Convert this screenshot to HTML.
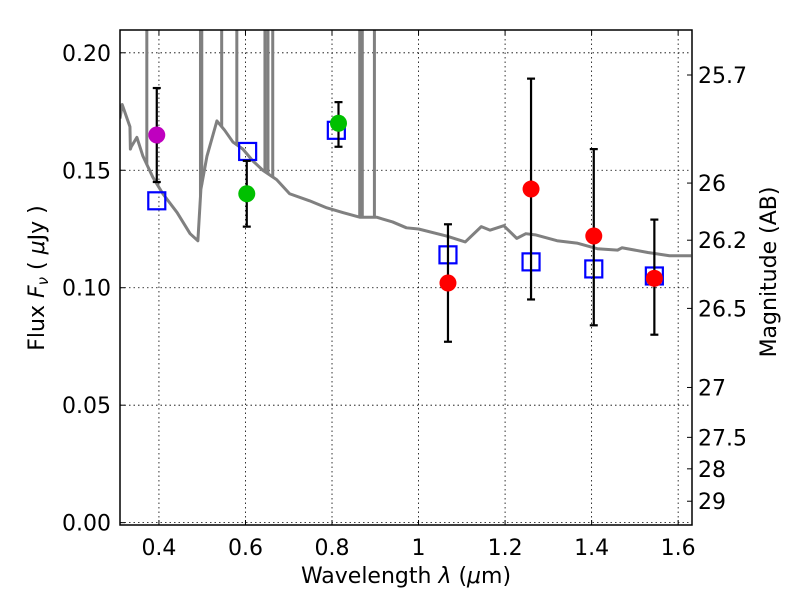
<!DOCTYPE html>
<html><head><meta charset="utf-8"><style>
body{margin:0;background:#fff}
svg text{font-family:"DejaVu Sans","Liberation Sans",sans-serif;fill:#000}
</style></head><body>
<svg id="chart" width="800" height="600" viewBox="0 0 800 600" xmlns="http://www.w3.org/2000/svg">
<defs><clipPath id="clip"><rect x="120" y="30" width="572" height="495"/></clipPath></defs>
<rect x="0" y="0" width="800" height="600" fill="#fff"/>
<g id="grid"></g>
<g id="marks" clip-path="url(#clip)"></g>
<g id="pts"></g>
<rect x="120" y="30" width="572" height="495" fill="none" stroke="#000" stroke-width="1.5"/>
<g id="axes"></g>
<text x="406" y="583" font-size="22" text-anchor="middle">Wavelength  <tspan font-style="italic">λ</tspan> (<tspan font-style="italic">μ</tspan>m)</text>
<text transform="translate(44,278) rotate(-90)" font-size="22" text-anchor="middle">Flux  <tspan font-style="italic">F</tspan><tspan font-style="italic" font-size="15" dy="4">ν</tspan><tspan dy="-4">  ( </tspan><tspan font-style="italic">μ</tspan>Jy )</text>
<text transform="translate(776,272) rotate(-90)" font-size="22" text-anchor="middle">Magnitude (AB)</text>
</svg>
<script>
const xTicks=[0.4,0.6,0.8,1.0,1.2,1.4,1.6];
const xTickLabels=["0.4","0.6","0.8","1","1.2","1.4","1.6"];
const yTicks=[0,0.05,0.10,0.15,0.20];
const yTickLabels=["0.00","0.05","0.10","0.15","0.20"];
const magTicks=[25.7,26,26.2,26.5,27,27.5,28,29];
const magTickLabels=["25.7","26","26.2","26.5","27","27.5","28","29"];
const specWave=[0.31,0.315,0.333,0.334,0.336,0.349,0.363,0.386,0.409,0.442,0.472,0.490,0.497,0.511,0.534,0.552,0.571,0.594,0.617,0.640,0.672,0.702,0.748,0.788,0.825,0.864,0.903,0.940,0.972,1.0,1.065,1.108,1.145,1.165,1.197,1.227,1.248,1.27,1.32,1.366,1.413,1.46,1.47,1.53,1.58,1.63];
const specFlux=[0.172,0.178,0.1685,0.159,0.160,0.164,0.156,0.147,0.140,0.132,0.123,0.120,0.142,0.156,0.171,0.167,0.162,0.159,0.154,0.150,0.146,0.140,0.137,0.134,0.132,0.130,0.130,0.128,0.1255,0.125,0.122,0.1195,0.126,0.1245,0.1264,0.121,0.123,0.1225,0.120,0.119,0.1166,0.116,0.117,0.115,0.1136,0.1136];
const spikeWave=[0.372,0.496,0.499,0.545,0.58,0.645,0.652,0.663,0.864,0.870,0.898];
const photWave=[0.395,0.603,0.815,1.068,1.26,1.405,1.545];
const photFlux=[0.165,0.140,0.170,0.102,0.142,0.122,0.104];
const photLow=[0.145,0.126,0.160,0.077,0.095,0.084,0.080];
const photHigh=[0.185,0.154,0.179,0.127,0.189,0.159,0.129];
const photColor=["#bf00bf","#00c000","#00c000","#ff0000","#ff0000","#ff0000","#ff0000"];
const modelWave=[0.395,0.605,0.81,1.068,1.26,1.405,1.545];
const modelFlux=[0.137,0.158,0.167,0.114,0.111,0.108,0.105];

const NS="http://www.w3.org/2000/svg";
const X0=120,X1=692,Y0=525,Y1=30;
const xMin=0.31,xMax=1.632,yMin=-0.001,yMax=0.2097;
const sx=v=>X0+(v-xMin)/(xMax-xMin)*(X1-X0);
const sy=v=>Y0-(v-yMin)/(yMax-yMin)*(Y0-Y1);
const magToFlux=m=>Math.pow(10,(23.9-m)/2.5);
function mk(tag,attrs,parent){const e=document.createElementNS(NS,tag);for(const k in attrs)e.setAttribute(k,attrs[k]);parent.appendChild(e);return e;}
const grid=document.getElementById('grid'),marks=document.getElementById('marks'),pts=document.getElementById('pts'),axes=document.getElementById('axes');
xTicks.forEach((t,i)=>{const x=sx(t);
 const g=mk('line',{x1:x,x2:x,y1:Y1,y2:Y0,stroke:'#000','stroke-width':0.8,'stroke-dasharray':'1.5,3'},grid);
 
 mk('line',{x1:x,x2:x,y1:Y0,y2:Y0-5,stroke:'#000'},axes);mk('line',{x1:x,x2:x,y1:Y1,y2:Y1+5,stroke:'#000'},axes);
 const tx=mk('text',{x:x,y:555,'font-size':22,'text-anchor':'middle'},axes);tx.textContent=xTickLabels[i];
 });
yTicks.forEach((t,i)=>{const y=sy(t);
 const g=mk('line',{x1:X0,x2:X1,y1:y,y2:y,stroke:'#000','stroke-width':0.8,'stroke-dasharray':'1.5,3'},grid);
 
 mk('line',{x1:X0,x2:X0+5,y1:y,y2:y,stroke:'#000'},axes);
 const tx=mk('text',{x:111,y:y+8,'font-size':22,'text-anchor':'end'},axes);tx.textContent=yTickLabels[i];
 });
magTicks.forEach((m,i)=>{const y=sy(magToFlux(m));
 mk('line',{x1:X1-5,x2:X1,y1:y,y2:y,stroke:'#000'},axes);
 const tx=mk('text',{x:698,y:y+8,'font-size':22},axes);tx.textContent=magTickLabels[i];
 });
function interp(w){for(let i=1;i<specWave.length;i++){if(w<=specWave[i]){const t=(w-specWave[i-1])/(specWave[i]-specWave[i-1]);return specFlux[i-1]+t*(specFlux[i]-specFlux[i-1]);}}return specFlux[specFlux.length-1];}
spikeWave.forEach(w=>{const l=mk('line',{x1:sx(w),x2:sx(w),y1:sy(interp(w)),y2:sy(0.3),stroke:'#808080','stroke-width':3},marks);
 });
const sp=mk('polyline',{points:specWave.map((w,i)=>sx(w)+','+sy(specFlux[i])).join(' '),fill:'none',stroke:'#808080','stroke-width':3,'stroke-linejoin':'round'},marks);

modelWave.forEach((w,i)=>{const x=sx(w),y=sy(modelFlux[i]);
 const r=mk('rect',{x:x-8.5,y:y-8.5,width:17,height:17,fill:'none',stroke:'#0000ff','stroke-width':2.2},pts);
 });
photWave.forEach((w,i)=>{const x=sx(w),yl=sy(photLow[i]),yh=sy(photHigh[i]);
 const g=mk('g',{},pts);
 mk('line',{x1:x,x2:x,y1:yl,y2:yh,stroke:'#000','stroke-width':2.2},g);
 mk('line',{x1:x-4,x2:x+4,y1:yl,y2:yl,stroke:'#000','stroke-width':2.2},g);
 mk('line',{x1:x-4,x2:x+4,y1:yh,y2:yh,stroke:'#000','stroke-width':2.2},g);
 const c=mk('circle',{cx:x,cy:sy(photFlux[i]),r:8.5,fill:photColor[i]},pts);
 });
</script>
</body></html>
